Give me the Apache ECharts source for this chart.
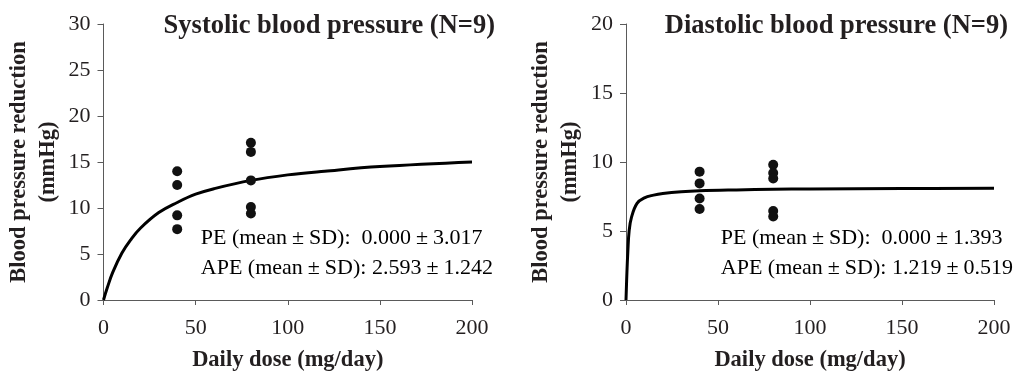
<!DOCTYPE html>
<html>
<head>
<meta charset="utf-8">
<script src="https://cdn.jsdelivr.net/npm/echarts@6/dist/echarts.min.js"></script>
<style>
html,body{margin:0;padding:0;background:#fff;}
#main{width:1024px;height:374px;}
</style>
</head>
<body>
<div id="main"></div>
<script>
// ---- data ----
const panelTitles = ['Systolic blood pressure (N=9)', 'Diastolic blood pressure (N=9)'];
const xAxisName = 'Daily dose (mg/day)';
const yAxisName = 'Blood pressure reduction\n(mmHg)';
const xTicks = [0, 50, 100, 150, 200];
const sysYTicks = [0, 5, 10, 15, 20, 25, 30];
const diaYTicks = [0, 5, 10, 15, 20];

const obsDose = [40, 40, 40, 40, 80, 80, 80, 80, 80];
const sysObsValues = [14.0, 12.5, 9.2, 7.7, 17.1, 16.1, 13.0, 10.1, 9.4];
const diaObsValues = [9.3, 8.45, 7.35, 6.6, 9.8, 9.2, 8.8, 6.45, 6.05];

const sysCurveDose = [0, 2, 5, 10, 15, 20, 30, 40, 50, 60, 80, 100, 120, 150, 200];
const sysCurveValues = [0, 1.3, 3.0, 5.1, 6.6, 7.8, 9.5, 10.6, 11.5, 12.1, 13.0, 13.6, 14.0, 14.5, 15.0];
const diaCurveDose = [0, 0.5, 1, 1.7, 3, 6, 10, 15, 20, 30, 40, 60, 80, 100, 150, 200];
const diaCurveValues = [0, 2.0, 3.5, 5.0, 6.0, 7.0, 7.4, 7.6, 7.72, 7.85, 7.92, 7.98, 8.02, 8.05, 8.08, 8.1];

const sysStats = ['PE (mean', '±', 'SD):  0.000', '±', '3.017', 'APE (mean', '±', 'SD): 2.593', '±', '1.242'];
const diaStats = ['PE (mean', '±', 'SD):  0.000', '±', '1.393', 'APE (mean', '±', 'SD): 1.219', '±', '0.519'];

// ---- chart ----
const serif = '"Liberation Serif", "Times New Roman", serif';
const txt = '#231f20';
const axisCol = '#5a5a5a';

function pairs(xs, ys) { return xs.map((x, i) => [x, ys[i]]); }

function xAxisCfg(idx) {
  return {
    type: 'value', gridIndex: idx, min: 0, max: 200, interval: 50,
    name: xAxisName, nameLocation: 'middle', nameGap: 49,
    nameTextStyle: { fontFamily: serif, fontWeight: 'bold', fontSize: 22.5, color: txt },
    axisLine: { show: true, lineStyle: { color: axisCol, width: 1 } },
    axisTick: { show: true, length: 5, inside: false, lineStyle: { color: axisCol } },
    axisLabel: { fontFamily: serif, fontSize: 22, color: txt, margin: 17 },
    splitLine: { show: false }
  };
}
function yAxisCfg(idx, ticks) {
  return {
    type: 'value', gridIndex: idx, min: ticks[0], max: ticks[ticks.length - 1], interval: ticks[1] - ticks[0],
    name: yAxisName, nameLocation: 'middle', nameGap: 41, nameRotate: 90,
    nameTextStyle: { fontFamily: serif, fontWeight: 'bold', fontSize: 22.5, color: txt, lineHeight: 29 },
    axisLine: { show: true, lineStyle: { color: axisCol, width: 1 } },
    axisTick: { show: true, length: 6, inside: false, lineStyle: { color: axisCol } },
    axisLabel: { fontFamily: serif, fontSize: 22, color: txt, margin: 13 },
    splitLine: { show: false }
  };
}
function statsText(s) {
  return '{a|' + s[0] + '}{pm|' + s[1] + '}{a|' + s[2] + '}{pm|' + s[3] + '}{a|' + s[4] + '}\n' +
         '{a|' + s[5] + '}{pm|' + s[6] + '}{a|' + s[7] + '}{pm|' + s[8] + '}{a|' + s[9] + '}';
}
const richStyle = {
  a: { fontFamily: serif, fontSize: 22, color: txt, lineHeight: 30 },
  pm: { fontFamily: serif, fontSize: 22, color: txt, lineHeight: 30, padding: [0, 5, 0, 5] }
};

const chart = echarts.init(document.getElementById('main'), null, { renderer: 'canvas' });
chart.setOption({
  backgroundColor: '#fff',
  animation: false,
  title: [
    { text: panelTitles[0], right: 524, top: 8, textStyle: { fontFamily: serif, fontWeight: 'bold', fontSize: 26.5, color: txt } },
    { text: panelTitles[1], right: 11, top: 8, textStyle: { fontFamily: serif, fontWeight: 'bold', fontSize: 26.5, color: txt } }
  ],
  grid: [
    { left: 103.5, top: 24, width: 368.5, height: 276, containLabel: false, outerBoundsMode: 'none' },
    { left: 626, top: 24, width: 368, height: 276, containLabel: false, outerBoundsMode: 'none' }
  ],
  xAxis: [xAxisCfg(0), xAxisCfg(1)],
  yAxis: [yAxisCfg(0, sysYTicks), yAxisCfg(1, diaYTicks)],
  graphic: [
    { type: 'text', right: 531, top: 227, style: { text: statsText(sysStats), rich: richStyle, align: 'right' } },
    { type: 'text', right: 11, top: 227, style: { text: statsText(diaStats), rich: richStyle, align: 'right' } }
  ],
  series: [
    { type: 'line', xAxisIndex: 0, yAxisIndex: 0, data: pairs(sysCurveDose, sysCurveValues), smooth: 0.4,
      showSymbol: false, lineStyle: { color: '#000', width: 3 }, z: 2 },
    { type: 'scatter', xAxisIndex: 0, yAxisIndex: 0, data: pairs(obsDose, sysObsValues), symbol: 'circle', symbolSize: 10,
      itemStyle: { color: '#111', opacity: 1 }, z: 3 },
    { type: 'line', xAxisIndex: 1, yAxisIndex: 1, data: pairs(diaCurveDose, diaCurveValues), smooth: 0.4,
      showSymbol: false, lineStyle: { color: '#000', width: 3 }, z: 2 },
    { type: 'scatter', xAxisIndex: 1, yAxisIndex: 1, data: pairs(obsDose, diaObsValues), symbol: 'circle', symbolSize: 10,
      itemStyle: { color: '#111', opacity: 1 }, z: 3 }
  ]
});
</script>
</body>
</html>
